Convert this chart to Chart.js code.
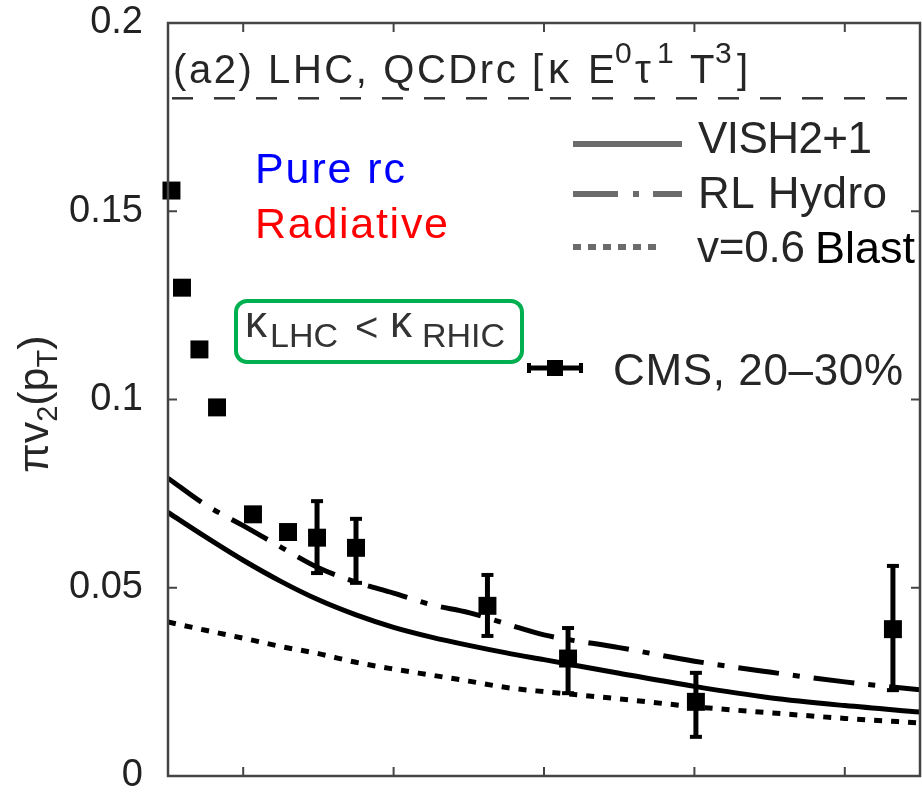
<!DOCTYPE html>
<html>
<head>
<meta charset="utf-8">
<script src="https://cdn.jsdelivr.net/npm/chart.js@4.4.1/dist/chart.umd.min.js"></script>
<style>
html, body { margin: 0; padding: 0; background: #ffffff; }
#c { display: block; }
</style>
</head>
<body>
<canvas id="c" width="922" height="797"></canvas>
<script>
// ---------------- data ----------------
const yTickValues = [0, 0.05, 0.1, 0.15, 0.2];
const yTickLabels = ['0', '0.05', '0.1', '0.15', '0.2'];
const xTickValues = [10, 20, 30, 40, 50];

// CMS 20-30% points
const cmsPt      = [5.23, 5.93, 7.09, 8.26, 10.65, 12.98, 14.91, 17.5, 26.24, 31.6, 40.1, 53.2];
const cmsV2      = [0.1555, 0.1297, 0.1133, 0.0979, 0.0695, 0.0648, 0.0633, 0.0606, 0.0452, 0.0312, 0.0197, 0.0390];
const cmsErrLow  = [null, null, null, null, null, null, 0.0539, 0.0513, 0.0372, 0.0220, 0.0104, 0.0228];
const cmsErrHigh = [null, null, null, null, null, null, 0.0730, 0.0683, 0.0534, 0.0393, 0.0274, 0.0558];

// model curves
const curvePt  = [5, 7.5, 10, 12.5, 15, 17.5, 20, 22.5, 25, 27.5, 30, 35, 40, 45, 50, 55];
const vish     = [0.0700, 0.0635, 0.0573, 0.0517, 0.0468, 0.0428, 0.0395, 0.0369, 0.0347, 0.0327, 0.0309, 0.0273, 0.0238, 0.0208, 0.0187, 0.0170];
const rlHydro  = [0.0791, 0.0720, 0.0665, 0.0608, 0.0553, 0.0515, 0.0486, 0.0455, 0.0434, 0.0404, 0.0375, 0.0341, 0.0305, 0.0276, 0.0250, 0.0229];
const blastV06 = [0.0409, 0.0387, 0.0366, 0.0344, 0.0325, 0.0302, 0.0284, 0.0268, 0.0252, 0.0235, 0.0224, 0.0205, 0.0184, 0.0168, 0.0153, 0.0141];

const boundaryLevel = 0.18;

const legendLabels = ['VISH2+1', 'RL Hydro', 'v=0.6', 'CMS, 20\u201330%'];
const panelTitle = ['(a2) LHC, QCDrc [', '\u03BA', 'E', '0', '\u03C4', '1', 'T', '3', ']'];

// ---------------- helpers ----------------
const FONT = '"Liberation Sans", Arial, Helvetica, sans-serif';
const TXT = '#262626';

function pts(xs, ys) { return xs.map((x, i) => ({ x: x, y: ys[i] })); }

function txt(ctx, s, x, y, size, color, target) {
  ctx.save();
  ctx.font = size + 'px ' + FONT;
  ctx.fillStyle = color;
  ctx.textAlign = 'left';
  ctx.textBaseline = 'alphabetic';
  if (target) {
    const w = ctx.measureText(s).width;
    const n = Array.from(s).length;
    if ('letterSpacing' in ctx && n > 1) {
      ctx.letterSpacing = ((target - w) / (n - 1)).toFixed(2) + 'px';
      ctx.fillText(s, x, y);
    } else {
      ctx.translate(x, y);
      ctx.scale(target / w, 1);
      ctx.fillText(s, 0, 0);
    }
  } else {
    ctx.fillText(s, x, y);
  }
  ctx.restore();
}

function line(ctx, x1, y1, x2, y2, w, color, dash) {
  ctx.save();
  ctx.beginPath();
  ctx.lineWidth = w;
  ctx.strokeStyle = color;
  ctx.lineCap = 'butt';
  ctx.setLineDash(dash || []);
  ctx.moveTo(x1, y1);
  ctx.lineTo(x2, y2);
  ctx.stroke();
  ctx.restore();
}

function noPad(s) { s.paddingTop = 0; s.paddingBottom = 0; s.paddingLeft = 0; s.paddingRight = 0; }

// ---------------- decorations plugin ----------------
const decor = {
  id: 'decor',
  afterDatasetsDraw(chart) {
    const ctx = chart.ctx;
    const xs = chart.scales.x, ys = chart.scales.y;
    // error bars
    cmsPt.forEach((p, i) => {
      if (cmsErrLow[i] == null) return;
      const x = xs.getPixelForValue(p);
      const yl = ys.getPixelForValue(cmsErrLow[i]);
      const yh = ys.getPixelForValue(cmsErrHigh[i]);
      line(ctx, x, yl, x, yh, 5, '#000');
      line(ctx, x - 6, yl, x + 6, yl, 4, '#000');
      line(ctx, x - 6, yh, x + 6, yh, 4, '#000');
    });
  },
  afterDraw(chart) {
    const ctx = chart.ctx;
    const a = chart.chartArea;
    const xs = chart.scales.x, ys = chart.scales.y;

    // boundary dashed line
    const yb = ys.getPixelForValue(boundaryLevel);
    ctx.save();
    ctx.beginPath();
    ctx.rect(a.left, a.top, a.right - a.left, a.bottom - a.top);
    ctx.clip();
    line(ctx, a.left + 4, yb, a.right, yb, 2.5, '#333', [21, 21]);
    ctx.restore();

    // frame
    ctx.save();
    ctx.lineWidth = 2.5;
    ctx.strokeStyle = '#444';
    ctx.strokeRect(a.left, a.top, a.right - a.left, a.bottom - a.top);
    ctx.restore();

    // inward ticks
    yTickValues.forEach(v => {
      const y = ys.getPixelForValue(v);
      line(ctx, a.left, y, a.left + 9, y, 2, '#444');
      line(ctx, a.right, y, a.right - 9, y, 2, '#444');
    });
    xTickValues.forEach(v => {
      const x = xs.getPixelForValue(v);
      line(ctx, x, a.bottom, x, a.bottom - 9, 2, '#444');
      line(ctx, x, a.top, x, a.top + 9, 2, '#444');
    });

    // y-axis title  pi v_2 (p_T)
    ctx.save();
    ctx.translate(48, 473);
    ctx.rotate(-Math.PI / 2);
    ctx.fillStyle = TXT;
    ctx.textBaseline = 'alphabetic';
    let cx = 0;
    const part = (s, size, dy) => {
      ctx.font = size + 'px ' + FONT;
      ctx.fillText(s, cx, dy);
      cx += ctx.measureText(s).width;
    };
    part('\u03C0v', 43, 0);
    part('2', 29, 9);
    part('(p', 43, 0);
    part('T', 29, 9);
    part(')', 43, 0);
    ctx.restore();

    // panel title
    txt(ctx, panelTitle[0], 173, 83, 40, TXT, 370);
    txt(ctx, panelTitle[1], 548, 83, 42, TXT);
    txt(ctx, panelTitle[2], 588, 83, 40, TXT);
    txt(ctx, panelTitle[3], 615, 63, 30, TXT);
    txt(ctx, panelTitle[4], 635, 83, 40, TXT);
    txt(ctx, panelTitle[5], 657, 63, 30, TXT);
    txt(ctx, panelTitle[6], 690, 83, 40, TXT);
    txt(ctx, panelTitle[7], 715, 63, 30, TXT);
    txt(ctx, panelTitle[8], 737, 83, 40, TXT);

    // annotations
    txt(ctx, 'Pure rc', 255, 183, 43, '#0000ff', 150);
    txt(ctx, 'Radiative', 255, 238, 43, '#ff0000', 193);

    // kappa box
    ctx.save();
    ctx.lineWidth = 4;
    ctx.strokeStyle = '#00b050';
    ctx.beginPath();
    if (ctx.roundRect) ctx.roundRect(236, 301, 286, 61, 11);
    else ctx.rect(236, 301, 286, 61);
    ctx.stroke();
    ctx.restore();
    txt(ctx, '\u03BA', 245, 337, 44, '#333');
    txt(ctx, 'LHC', 270, 347, 34, '#333');
    txt(ctx, '<', 355, 341, 40, '#333');
    txt(ctx, '\u03BA', 390, 337, 44, '#333');
    txt(ctx, 'RHIC', 422, 347, 34, '#333');

    // legend
    const LG = '#6b6b6b';
    line(ctx, 573, 144, 682, 144, 6, LG);
    line(ctx, 573, 194, 682, 194, 6, LG, [45, 15, 6, 14]);
    line(ctx, 573, 247, 663, 247, 6, LG, [8, 7]);
    txt(ctx, legendLabels[0], 698, 153, 44, TXT, 174);
    txt(ctx, legendLabels[1], 698, 208, 44, TXT, 189);
    txt(ctx, legendLabels[2], 697, 262, 44, TXT, 108);
    txt(ctx, 'Blast', 815, 263, 45, '#000');
    // CMS legend marker
    line(ctx, 528, 368, 582, 368, 5, '#000');
    line(ctx, 529, 363, 529, 373, 4, '#000');
    line(ctx, 581, 363, 581, 373, 4, '#000');
    ctx.save();
    ctx.fillStyle = '#000';
    ctx.fillRect(547, 360, 16, 16);
    ctx.restore();
    txt(ctx, legendLabels[3], 613, 385, 44, TXT, 290);
  }
};

// ---------------- chart ----------------
new Chart(document.getElementById('c'), {
  type: 'scatter',
  data: {
    datasets: [
      {
        label: 'CMS, 20-30%',
        data: pts(cmsPt, cmsV2),
        showLine: false,
        pointStyle: 'rect',
        pointRadius: 12.7,
        pointBackgroundColor: '#000',
        pointBorderWidth: 0,
        clip: false
      },
      {
        label: 'VISH2+1',
        data: pts(curvePt, vish),
        showLine: true,
        pointRadius: 0,
        borderColor: '#000',
        borderWidth: 5,
        cubicInterpolationMode: 'monotone',
        fill: false
      },
      {
        label: 'RL Hydro',
        data: pts(curvePt, rlHydro),
        showLine: true,
        pointRadius: 0,
        borderColor: '#000',
        borderWidth: 5,
        borderDash: [41, 14, 7, 14],
        borderCapStyle: 'butt',
        cubicInterpolationMode: 'monotone',
        fill: false
      },
      {
        label: 'v=0.6 Blast',
        data: pts(curvePt, blastV06),
        showLine: true,
        pointRadius: 0,
        borderColor: '#000',
        borderWidth: 5,
        borderDash: [8, 9],
        borderCapStyle: 'butt',
        cubicInterpolationMode: 'monotone',
        fill: false
      }
    ]
  },
  options: {
    responsive: false,
    animation: false,
    devicePixelRatio: 1,
    layout: { autoPadding: false, padding: { top: 23, right: 2, bottom: 21, left: 0 } },
    plugins: { legend: { display: false }, tooltip: { enabled: false } },
    scales: {
      x: { type: 'linear', min: 5, max: 55, display: false, afterFit: noPad },
      y: {
        type: 'linear',
        min: 0,
        max: 0.2,
        afterBuildTicks: s => { s.ticks = yTickValues.map(v => ({ value: v })); },
        afterFit: s => { s.width = 168; noPad(s); },
        grid: { display: false, drawTicks: false },
        border: { display: false },
        ticks: {
          padding: 25,
          color: '#222',
          font: { family: FONT, size: 38, lineHeight: 1 },
          callback: (v) => { const i = yTickValues.indexOf(v); return i >= 0 ? yTickLabels[i] : ''; }
        }
      }
    }
  },
  plugins: [decor]
});
</script>
</body>
</html>
